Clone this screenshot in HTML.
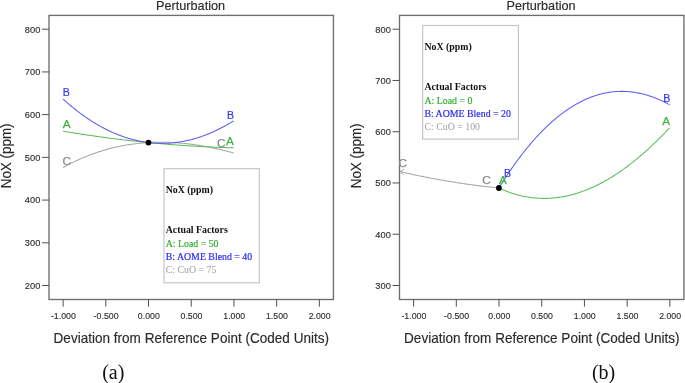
<!DOCTYPE html>
<html><head><meta charset="utf-8"><style>
html,body{margin:0;padding:0;background:#fff;}
body{width:685px;height:383px;overflow:hidden;}
svg{display:block;will-change:transform;}
text{font-family:"Liberation Sans",sans-serif;}
.tk{font-size:9.9px;fill:#303030;stroke:#303030;stroke-width:0.15px;}
.ttl{font-size:14.4px;fill:#2a2a2a;stroke:#2a2a2a;stroke-width:0.15px;}
.top{font-size:12.9px;fill:#2a2a2a;stroke:#2a2a2a;stroke-width:0.15px;}
.lg{font-family:"Liberation Serif",serif;font-size:9.85px;}
.b{font-weight:bold;}
.cg{stroke:#33ad33;stroke-width:0.2px;}
.cb{stroke:#2a2af5;stroke-width:0.2px;}
.cl{font-size:11.8px;stroke-width:0.25px;}
.cap{font-family:"Liberation Serif",serif;font-size:20px;fill:#111;}
</style></head><body>
<svg width="685" height="383" viewBox="0 0 685 383">
<rect width="685" height="383" fill="#fff"/>
<rect x="49.0" y="15.4" width="284.45" height="284.10" fill="none" stroke="#6e6e6e" stroke-width="1.35"/>
<line x1="42" y1="29.20" x2="49.0" y2="29.20" stroke="#505050" stroke-width="1"/>
<text x="40.3" y="32.60" text-anchor="end" class="tk" textLength="15.5" lengthAdjust="spacingAndGlyphs">800</text>
<line x1="42" y1="71.92" x2="49.0" y2="71.92" stroke="#505050" stroke-width="1"/>
<text x="40.3" y="75.32" text-anchor="end" class="tk" textLength="15.5" lengthAdjust="spacingAndGlyphs">700</text>
<line x1="42" y1="114.64" x2="49.0" y2="114.64" stroke="#505050" stroke-width="1"/>
<text x="40.3" y="118.04" text-anchor="end" class="tk" textLength="15.5" lengthAdjust="spacingAndGlyphs">600</text>
<line x1="42" y1="157.36" x2="49.0" y2="157.36" stroke="#505050" stroke-width="1"/>
<text x="40.3" y="160.76" text-anchor="end" class="tk" textLength="15.5" lengthAdjust="spacingAndGlyphs">500</text>
<line x1="42" y1="200.08" x2="49.0" y2="200.08" stroke="#505050" stroke-width="1"/>
<text x="40.3" y="203.48" text-anchor="end" class="tk" textLength="15.5" lengthAdjust="spacingAndGlyphs">400</text>
<line x1="42" y1="242.80" x2="49.0" y2="242.80" stroke="#505050" stroke-width="1"/>
<text x="40.3" y="246.20" text-anchor="end" class="tk" textLength="15.5" lengthAdjust="spacingAndGlyphs">300</text>
<line x1="42" y1="285.52" x2="49.0" y2="285.52" stroke="#505050" stroke-width="1"/>
<text x="40.3" y="288.92" text-anchor="end" class="tk" textLength="15.5" lengthAdjust="spacingAndGlyphs">200</text>
<line x1="63.10" y1="299.5" x2="63.10" y2="306.7" stroke="#505050" stroke-width="1"/>
<text x="63.40" y="318.8" text-anchor="middle" class="tk" textLength="25.0" lengthAdjust="spacingAndGlyphs">-1.000</text>
<line x1="105.81" y1="299.5" x2="105.81" y2="306.7" stroke="#505050" stroke-width="1"/>
<text x="106.11" y="318.8" text-anchor="middle" class="tk" textLength="25.0" lengthAdjust="spacingAndGlyphs">-0.500</text>
<line x1="148.52" y1="299.5" x2="148.52" y2="306.7" stroke="#505050" stroke-width="1"/>
<text x="148.82" y="318.8" text-anchor="middle" class="tk" textLength="21.9" lengthAdjust="spacingAndGlyphs">0.000</text>
<line x1="191.23" y1="299.5" x2="191.23" y2="306.7" stroke="#505050" stroke-width="1"/>
<text x="191.53" y="318.8" text-anchor="middle" class="tk" textLength="21.9" lengthAdjust="spacingAndGlyphs">0.500</text>
<line x1="233.94" y1="299.5" x2="233.94" y2="306.7" stroke="#505050" stroke-width="1"/>
<text x="234.24" y="318.8" text-anchor="middle" class="tk" textLength="21.9" lengthAdjust="spacingAndGlyphs">1.000</text>
<line x1="276.65" y1="299.5" x2="276.65" y2="306.7" stroke="#505050" stroke-width="1"/>
<text x="276.95" y="318.8" text-anchor="middle" class="tk" textLength="21.9" lengthAdjust="spacingAndGlyphs">1.500</text>
<line x1="319.36" y1="299.5" x2="319.36" y2="306.7" stroke="#505050" stroke-width="1"/>
<text x="319.66" y="318.8" text-anchor="middle" class="tk" textLength="21.9" lengthAdjust="spacingAndGlyphs">2.000</text>
<text x="53.6" y="343" class="ttl" textLength="275.4" lengthAdjust="spacingAndGlyphs">Deviation from Reference Point (Coded Units)</text>
<text x="156.1" y="9.6" class="top" textLength="69" lengthAdjust="spacingAndGlyphs">Perturbation</text>
<text transform="translate(10.8,188.3) rotate(-90)" x="0" y="0" class="ttl" textLength="64.9" lengthAdjust="spacingAndGlyphs">NoX (ppm)</text>
<rect x="399.5" y="15.4" width="284.45" height="284.10" fill="none" stroke="#6e6e6e" stroke-width="1.35"/>
<line x1="392.5" y1="29.20" x2="399.5" y2="29.20" stroke="#505050" stroke-width="1"/>
<text x="390.8" y="32.60" text-anchor="end" class="tk" textLength="15.5" lengthAdjust="spacingAndGlyphs">800</text>
<line x1="392.5" y1="80.46" x2="399.5" y2="80.46" stroke="#505050" stroke-width="1"/>
<text x="390.8" y="83.86" text-anchor="end" class="tk" textLength="15.5" lengthAdjust="spacingAndGlyphs">700</text>
<line x1="392.5" y1="131.72" x2="399.5" y2="131.72" stroke="#505050" stroke-width="1"/>
<text x="390.8" y="135.12" text-anchor="end" class="tk" textLength="15.5" lengthAdjust="spacingAndGlyphs">600</text>
<line x1="392.5" y1="182.98" x2="399.5" y2="182.98" stroke="#505050" stroke-width="1"/>
<text x="390.8" y="186.38" text-anchor="end" class="tk" textLength="15.5" lengthAdjust="spacingAndGlyphs">500</text>
<line x1="392.5" y1="234.24" x2="399.5" y2="234.24" stroke="#505050" stroke-width="1"/>
<text x="390.8" y="237.64" text-anchor="end" class="tk" textLength="15.5" lengthAdjust="spacingAndGlyphs">400</text>
<line x1="392.5" y1="285.50" x2="399.5" y2="285.50" stroke="#505050" stroke-width="1"/>
<text x="390.8" y="288.90" text-anchor="end" class="tk" textLength="15.5" lengthAdjust="spacingAndGlyphs">300</text>
<line x1="413.60" y1="299.5" x2="413.60" y2="306.7" stroke="#505050" stroke-width="1"/>
<text x="413.90" y="318.8" text-anchor="middle" class="tk" textLength="25.0" lengthAdjust="spacingAndGlyphs">-1.000</text>
<line x1="456.31" y1="299.5" x2="456.31" y2="306.7" stroke="#505050" stroke-width="1"/>
<text x="456.61" y="318.8" text-anchor="middle" class="tk" textLength="25.0" lengthAdjust="spacingAndGlyphs">-0.500</text>
<line x1="499.02" y1="299.5" x2="499.02" y2="306.7" stroke="#505050" stroke-width="1"/>
<text x="499.32" y="318.8" text-anchor="middle" class="tk" textLength="21.9" lengthAdjust="spacingAndGlyphs">0.000</text>
<line x1="541.73" y1="299.5" x2="541.73" y2="306.7" stroke="#505050" stroke-width="1"/>
<text x="542.03" y="318.8" text-anchor="middle" class="tk" textLength="21.9" lengthAdjust="spacingAndGlyphs">0.500</text>
<line x1="584.44" y1="299.5" x2="584.44" y2="306.7" stroke="#505050" stroke-width="1"/>
<text x="584.74" y="318.8" text-anchor="middle" class="tk" textLength="21.9" lengthAdjust="spacingAndGlyphs">1.000</text>
<line x1="627.15" y1="299.5" x2="627.15" y2="306.7" stroke="#505050" stroke-width="1"/>
<text x="627.45" y="318.8" text-anchor="middle" class="tk" textLength="21.9" lengthAdjust="spacingAndGlyphs">1.500</text>
<line x1="669.86" y1="299.5" x2="669.86" y2="306.7" stroke="#505050" stroke-width="1"/>
<text x="670.16" y="318.8" text-anchor="middle" class="tk" textLength="21.9" lengthAdjust="spacingAndGlyphs">2.000</text>
<text x="404.1" y="343" class="ttl" textLength="275.4" lengthAdjust="spacingAndGlyphs">Deviation from Reference Point (Coded Units)</text>
<text x="506.6" y="9.6" class="top" textLength="69" lengthAdjust="spacingAndGlyphs">Perturbation</text>
<text transform="translate(361.3,188.3) rotate(-90)" x="0" y="0" class="ttl" textLength="64.9" lengthAdjust="spacingAndGlyphs">NoX (ppm)</text>
<polyline points="63.00,167.57 64.00,167.02 65.00,166.48 66.00,165.94 67.00,165.40 68.00,164.88 69.00,164.36 70.00,163.85 71.00,163.34 72.00,162.84 73.00,162.35 74.00,161.86 75.00,161.38 76.00,160.91 77.00,160.44 78.00,159.99 79.00,159.53 80.00,159.09 81.00,158.64 82.00,158.21 83.00,157.78 84.00,157.36 85.00,156.95 86.00,156.54 87.00,156.14 88.00,155.74 89.00,155.35 90.00,154.97 91.00,154.59 92.00,154.22 93.00,153.85 94.00,153.49 95.00,153.14 96.00,152.79 97.00,152.45 98.00,152.12 99.00,151.79 100.00,151.47 101.00,151.15 102.00,150.84 103.00,150.53 104.00,150.24 105.00,149.94 106.00,149.65 107.00,149.37 108.00,149.10 109.00,148.83 110.00,148.56 111.00,148.31 112.00,148.05 113.00,147.81 114.00,147.56 115.00,147.33 116.00,147.10 117.00,146.88 118.00,146.66 119.00,146.44 120.00,146.24 121.00,146.03 122.00,145.84 123.00,145.65 124.00,145.46 125.00,145.28 126.00,145.10 127.00,144.93 128.00,144.77 129.00,144.61 130.00,144.46 131.00,144.31 132.00,144.17 133.00,144.03 134.00,143.90 135.00,143.77 136.00,143.65 137.00,143.53 138.00,143.42 139.00,143.31 140.00,143.21 141.00,143.11 142.00,143.02 143.00,142.93 144.00,142.85 145.00,142.78 146.00,142.70 147.00,142.64 148.00,142.58 149.00,142.52 150.00,142.47 151.00,142.42 152.00,142.38 153.00,142.34 154.00,142.31 155.00,142.28 156.00,142.25 157.00,142.24 158.00,142.22 159.00,142.21 160.00,142.21 161.00,142.21 162.00,142.21 163.00,142.22 164.00,142.23 165.00,142.25 166.00,142.27 167.00,142.30 168.00,142.33 169.00,142.37 170.00,142.41 171.00,142.45 172.00,142.50 173.00,142.56 174.00,142.61 175.00,142.67 176.00,142.74 177.00,142.81 178.00,142.89 179.00,142.96 180.00,143.05 181.00,143.13 182.00,143.23 183.00,143.32 184.00,143.42 185.00,143.52 186.00,143.63 187.00,143.74 188.00,143.86 189.00,143.98 190.00,144.10 191.00,144.23 192.00,144.36 193.00,144.49 194.00,144.63 195.00,144.78 196.00,144.92 197.00,145.07 198.00,145.23 199.00,145.38 200.00,145.55 201.00,145.71 202.00,145.88 203.00,146.05 204.00,146.23 205.00,146.41 206.00,146.59 207.00,146.78 208.00,146.97 209.00,147.16 210.00,147.36 211.00,147.56 212.00,147.77 213.00,147.97 214.00,148.19 215.00,148.40 216.00,148.62 217.00,148.84 218.00,149.06 219.00,149.29 220.00,149.52 221.00,149.76 222.00,149.99 223.00,150.24 224.00,150.48 225.00,150.73 226.00,150.98 227.00,151.23 228.00,151.49 229.00,151.75 230.00,152.01 231.00,152.27 232.00,152.54 233.00,152.81 233.70,153.01" fill="none" stroke="#a8a8a8" stroke-width="1.05"/>
<polyline points="63.00,131.15 64.00,131.32 65.00,131.49 66.00,131.66 67.00,131.82 68.00,131.99 69.00,132.15 70.00,132.32 71.00,132.48 72.00,132.64 73.00,132.80 74.00,132.96 75.00,133.12 76.00,133.28 77.00,133.44 78.00,133.59 79.00,133.75 80.00,133.91 81.00,134.06 82.00,134.21 83.00,134.37 84.00,134.52 85.00,134.67 86.00,134.82 87.00,134.97 88.00,135.12 89.00,135.27 90.00,135.41 91.00,135.56 92.00,135.70 93.00,135.85 94.00,135.99 95.00,136.13 96.00,136.28 97.00,136.42 98.00,136.56 99.00,136.70 100.00,136.84 101.00,136.97 102.00,137.11 103.00,137.25 104.00,137.38 105.00,137.52 106.00,137.65 107.00,137.78 108.00,137.91 109.00,138.05 110.00,138.18 111.00,138.30 112.00,138.43 113.00,138.56 114.00,138.69 115.00,138.81 116.00,138.94 117.00,139.06 118.00,139.19 119.00,139.31 120.00,139.43 121.00,139.55 122.00,139.67 123.00,139.79 124.00,139.91 125.00,140.03 126.00,140.15 127.00,140.26 128.00,140.38 129.00,140.49 130.00,140.60 131.00,140.72 132.00,140.83 133.00,140.94 134.00,141.05 135.00,141.16 136.00,141.27 137.00,141.38 138.00,141.48 139.00,141.59 140.00,141.69 141.00,141.80 142.00,141.90 143.00,142.00 144.00,142.11 145.00,142.21 146.00,142.31 147.00,142.41 148.00,142.51 149.00,142.60 150.00,142.70 151.00,142.80 152.00,142.89 153.00,142.99 154.00,143.08 155.00,143.17 156.00,143.26 157.00,143.36 158.00,143.45 159.00,143.53 160.00,143.62 161.00,143.71 162.00,143.80 163.00,143.88 164.00,143.97 165.00,144.05 166.00,144.14 167.00,144.22 168.00,144.30 169.00,144.38 170.00,144.46 171.00,144.54 172.00,144.62 173.00,144.70 174.00,144.78 175.00,144.85 176.00,144.93 177.00,145.00 178.00,145.07 179.00,145.15 180.00,145.22 181.00,145.29 182.00,145.36 183.00,145.43 184.00,145.50 185.00,145.57 186.00,145.63 187.00,145.70 188.00,145.76 189.00,145.83 190.00,145.89 191.00,145.95 192.00,146.02 193.00,146.08 194.00,146.14 195.00,146.20 196.00,146.26 197.00,146.31 198.00,146.37 199.00,146.43 200.00,146.48 201.00,146.54 202.00,146.59 203.00,146.64 204.00,146.69 205.00,146.75 206.00,146.80 207.00,146.84 208.00,146.89 209.00,146.94 210.00,146.99 211.00,147.03 212.00,147.08 213.00,147.12 214.00,147.17 215.00,147.21 216.00,147.25 217.00,147.29 218.00,147.33 219.00,147.37 220.00,147.41 221.00,147.45 222.00,147.49 223.00,147.52 224.00,147.56 225.00,147.59 226.00,147.62 227.00,147.66 228.00,147.69 229.00,147.72 230.00,147.75 231.00,147.78 232.00,147.81 233.00,147.84 233.70,147.85" fill="none" stroke="#5cbe5c" stroke-width="1.05"/>
<polyline points="63.00,99.07 64.00,99.96 65.00,100.85 66.00,101.73 67.00,102.60 68.00,103.46 69.00,104.31 70.00,105.16 71.00,105.99 72.00,106.81 73.00,107.63 74.00,108.43 75.00,109.23 76.00,110.01 77.00,110.79 78.00,111.56 79.00,112.32 80.00,113.06 81.00,113.80 82.00,114.53 83.00,115.26 84.00,115.97 85.00,116.67 86.00,117.36 87.00,118.05 88.00,118.72 89.00,119.39 90.00,120.05 91.00,120.69 92.00,121.33 93.00,121.96 94.00,122.58 95.00,123.19 96.00,123.79 97.00,124.38 98.00,124.97 99.00,125.54 100.00,126.10 101.00,126.66 102.00,127.21 103.00,127.74 104.00,128.27 105.00,128.79 106.00,129.30 107.00,129.80 108.00,130.29 109.00,130.77 110.00,131.25 111.00,131.71 112.00,132.16 113.00,132.61 114.00,133.05 115.00,133.47 116.00,133.89 117.00,134.30 118.00,134.70 119.00,135.09 120.00,135.47 121.00,135.85 122.00,136.21 123.00,136.56 124.00,136.91 125.00,137.25 126.00,137.57 127.00,137.89 128.00,138.20 129.00,138.50 130.00,138.79 131.00,139.08 132.00,139.35 133.00,139.61 134.00,139.87 135.00,140.11 136.00,140.35 137.00,140.58 138.00,140.80 139.00,141.01 140.00,141.21 141.00,141.40 142.00,141.58 143.00,141.76 144.00,141.92 145.00,142.08 146.00,142.23 147.00,142.37 148.00,142.49 149.00,142.62 150.00,142.73 151.00,142.83 152.00,142.92 153.00,143.01 154.00,143.08 155.00,143.15 156.00,143.21 157.00,143.26 158.00,143.30 159.00,143.33 160.00,143.35 161.00,143.36 162.00,143.37 163.00,143.36 164.00,143.35 165.00,143.33 166.00,143.30 167.00,143.26 168.00,143.21 169.00,143.15 170.00,143.08 171.00,143.01 172.00,142.92 173.00,142.83 174.00,142.73 175.00,142.62 176.00,142.50 177.00,142.37 178.00,142.23 179.00,142.09 180.00,141.93 181.00,141.77 182.00,141.60 183.00,141.42 184.00,141.23 185.00,141.03 186.00,140.82 187.00,140.60 188.00,140.38 189.00,140.15 190.00,139.90 191.00,139.65 192.00,139.39 193.00,139.12 194.00,138.85 195.00,138.56 196.00,138.26 197.00,137.96 198.00,137.65 199.00,137.33 200.00,137.00 201.00,136.66 202.00,136.31 203.00,135.96 204.00,135.59 205.00,135.22 206.00,134.84 207.00,134.45 208.00,134.05 209.00,133.64 210.00,133.22 211.00,132.80 212.00,132.36 213.00,131.92 214.00,131.47 215.00,131.01 216.00,130.54 217.00,130.06 218.00,129.58 219.00,129.08 220.00,128.58 221.00,128.07 222.00,127.55 223.00,127.02 224.00,126.48 225.00,125.94 226.00,125.38 227.00,124.82 228.00,124.25 229.00,123.67 230.00,123.08 231.00,122.48 232.00,121.88 233.00,121.26 233.70,120.83" fill="none" stroke="#5e5ef4" stroke-width="1.05"/>
<circle cx="148.45" cy="142.55" r="2.9" fill="#000"/>
<text transform="translate(62.85,95.96) scale(0.9,1)" class="cl" fill="#3a3af5" stroke="#3a3af5">B</text>
<text transform="translate(62.81,128.21) scale(1.0,1)" class="cl" fill="#3db33d" stroke="#3db33d">A</text>
<text transform="translate(62.46,164.66) scale(1.0,1)" class="cl" fill="#8a8a8a" stroke="#8a8a8a">C</text>
<text transform="translate(227.10,118.66) scale(0.9,1)" class="cl" fill="#3a3af5" stroke="#3a3af5">B</text>
<text transform="translate(226.06,144.71) scale(1.0,1)" class="cl" fill="#3db33d" stroke="#3db33d">A</text>
<text transform="translate(217.11,147.31) scale(1.0,1)" class="cl" fill="#8a8a8a" stroke="#8a8a8a">C</text>
<rect x="164.0" y="168.7" width="95.30" height="114.10" fill="#fff" stroke="#c6c6c6" stroke-width="1.2"/>
<text x="165.70" y="193.00" class="lg b" fill="#111">NoX (ppm)</text>
<text x="165.70" y="233.30" class="lg b" fill="#111">Actual Factors</text>
<text x="165.70" y="246.70" class="lg cg" fill="#33ad33">A: Load = 50</text>
<text x="165.70" y="260.00" class="lg cb" fill="#2a2af5">B: AOME Blend = 40</text>
<text x="165.70" y="273.40" class="lg" fill="#a0a0a0">C: CuO = 75</text>
<polyline points="400.00,171.59 401.00,171.83 402.00,172.06 403.00,172.29 404.00,172.51 405.00,172.74 406.00,172.96 407.00,173.19 408.00,173.41 409.00,173.63 410.00,173.85 411.00,174.07 412.00,174.29 413.00,174.50 414.00,174.71 415.00,174.93 416.00,175.14 417.00,175.35 418.00,175.56 419.00,175.77 420.00,175.97 421.00,176.18 422.00,176.38 423.00,176.58 424.00,176.78 425.00,176.98 426.00,177.18 427.00,177.38 428.00,177.57 429.00,177.77 430.00,177.96 431.00,178.15 432.00,178.34 433.00,178.53 434.00,178.72 435.00,178.90 436.00,179.09 437.00,179.27 438.00,179.45 439.00,179.63 440.00,179.81 441.00,179.99 442.00,180.17 443.00,180.34 444.00,180.52 445.00,180.69 446.00,180.86 447.00,181.03 448.00,181.20 449.00,181.36 450.00,181.53 451.00,181.69 452.00,181.86 453.00,182.02 454.00,182.18 455.00,182.34 456.00,182.50 457.00,182.65 458.00,182.81 459.00,182.96 460.00,183.11 461.00,183.27 462.00,183.42 463.00,183.56 464.00,183.71 465.00,183.86 466.00,184.00 467.00,184.14 468.00,184.29 469.00,184.43 470.00,184.56 471.00,184.70 472.00,184.84 473.00,184.97 474.00,185.11 475.00,185.24 476.00,185.37 477.00,185.50 478.00,185.63 479.00,185.75 480.00,185.88 481.00,186.00 482.00,186.13 483.00,186.25 484.00,186.37 485.00,186.49 486.00,186.61 487.00,186.72 488.00,186.84 489.00,186.95 490.00,187.06 491.00,187.17 492.00,187.28 493.00,187.39 494.00,187.50 495.00,187.60 496.00,187.71 497.00,187.81 498.00,187.91 498.90,188.00" fill="none" stroke="#a8a8a8" stroke-width="1.05"/>
<polyline points="404.1,169.2 399.8,171.6 403.7,174.5" fill="none" stroke="#a8a8a8" stroke-width="1"/>
<polyline points="498.90,188.00 499.90,188.46 500.90,188.91 501.90,189.35 502.90,189.78 503.90,190.20 504.90,190.60 505.90,191.00 506.90,191.39 507.90,191.76 508.90,192.13 509.90,192.48 510.90,192.82 511.90,193.16 512.90,193.48 513.90,193.79 514.90,194.09 515.90,194.39 516.90,194.67 517.90,194.94 518.90,195.20 519.90,195.45 520.90,195.69 521.90,195.92 522.90,196.14 523.90,196.35 524.90,196.54 525.90,196.73 526.90,196.91 527.90,197.08 528.90,197.24 529.90,197.39 530.90,197.52 531.90,197.65 532.90,197.77 533.90,197.88 534.90,197.97 535.90,198.06 536.90,198.14 537.90,198.21 538.90,198.26 539.90,198.31 540.90,198.35 541.90,198.38 542.90,198.39 543.90,198.40 544.90,198.40 545.90,198.39 546.90,198.37 547.90,198.34 548.90,198.30 549.90,198.25 550.90,198.19 551.90,198.12 552.90,198.04 553.90,197.95 554.90,197.85 555.90,197.74 556.90,197.62 557.90,197.49 558.90,197.36 559.90,197.21 560.90,197.05 561.90,196.89 562.90,196.71 563.90,196.53 564.90,196.33 565.90,196.13 566.90,195.92 567.90,195.69 568.90,195.46 569.90,195.22 570.90,194.97 571.90,194.71 572.90,194.44 573.90,194.16 574.90,193.88 575.90,193.58 576.90,193.27 577.90,192.96 578.90,192.64 579.90,192.30 580.90,191.96 581.90,191.61 582.90,191.25 583.90,190.88 584.90,190.50 585.90,190.11 586.90,189.72 587.90,189.31 588.90,188.90 589.90,188.47 590.90,188.04 591.90,187.60 592.90,187.15 593.90,186.69 594.90,186.22 595.90,185.75 596.90,185.26 597.90,184.77 598.90,184.26 599.90,183.75 600.90,183.23 601.90,182.70 602.90,182.17 603.90,181.62 604.90,181.07 605.90,180.50 606.90,179.93 607.90,179.35 608.90,178.76 609.90,178.16 610.90,177.56 611.90,176.94 612.90,176.32 613.90,175.69 614.90,175.05 615.90,174.40 616.90,173.74 617.90,173.08 618.90,172.40 619.90,171.72 620.90,171.03 621.90,170.33 622.90,169.63 623.90,168.91 624.90,168.19 625.90,167.46 626.90,166.72 627.90,165.97 628.90,165.21 629.90,164.45 630.90,163.68 631.90,162.90 632.90,162.11 633.90,161.31 634.90,160.51 635.90,159.70 636.90,158.88 637.90,158.05 638.90,157.21 639.90,156.37 640.90,155.51 641.90,154.65 642.90,153.79 643.90,152.91 644.90,152.03 645.90,151.14 646.90,150.24 647.90,149.33 648.90,148.42 649.90,147.49 650.90,146.56 651.90,145.63 652.90,144.68 653.90,143.73 654.90,142.77 655.90,141.80 656.90,140.82 657.90,139.84 658.90,138.85 659.90,137.85 660.90,136.84 661.90,135.83 662.90,134.81 663.90,133.78 664.90,132.75 665.90,131.70 666.90,130.65 667.90,129.59 668.90,128.53 669.60,127.78" fill="none" stroke="#5cbe5c" stroke-width="1.05"/>
<polyline points="498.90,188.00 499.90,186.39 500.90,184.79 501.90,183.21 502.90,181.64 503.90,180.09 504.90,178.55 505.90,177.02 506.90,175.51 507.90,174.01 508.90,172.53 509.90,171.06 510.90,169.60 511.90,168.16 512.90,166.73 513.90,165.32 514.90,163.92 515.90,162.54 516.90,161.17 517.90,159.81 518.90,158.47 519.90,157.14 520.90,155.82 521.90,154.52 522.90,153.23 523.90,151.96 524.90,150.70 525.90,149.45 526.90,148.22 527.90,147.00 528.90,145.80 529.90,144.61 530.90,143.43 531.90,142.26 532.90,141.11 533.90,139.98 534.90,138.86 535.90,137.75 536.90,136.65 537.90,135.57 538.90,134.50 539.90,133.45 540.90,132.41 541.90,131.38 542.90,130.36 543.90,129.36 544.90,128.38 545.90,127.40 546.90,126.44 547.90,125.50 548.90,124.56 549.90,123.64 550.90,122.74 551.90,121.84 552.90,120.96 553.90,120.10 554.90,119.24 555.90,118.40 556.90,117.58 557.90,116.76 558.90,115.96 559.90,115.17 560.90,114.40 561.90,113.64 562.90,112.89 563.90,112.16 564.90,111.44 565.90,110.73 566.90,110.03 567.90,109.35 568.90,108.68 569.90,108.02 570.90,107.38 571.90,106.75 572.90,106.13 573.90,105.53 574.90,104.94 575.90,104.36 576.90,103.79 577.90,103.24 578.90,102.70 579.90,102.17 580.90,101.66 581.90,101.16 582.90,100.67 583.90,100.19 584.90,99.73 585.90,99.28 586.90,98.84 587.90,98.42 588.90,98.00 589.90,97.60 590.90,97.22 591.90,96.84 592.90,96.48 593.90,96.13 594.90,95.79 595.90,95.47 596.90,95.16 597.90,94.86 598.90,94.57 599.90,94.30 600.90,94.03 601.90,93.78 602.90,93.55 603.90,93.32 604.90,93.11 605.90,92.91 606.90,92.72 607.90,92.55 608.90,92.38 609.90,92.23 610.90,92.09 611.90,91.97 612.90,91.85 613.90,91.75 614.90,91.66 615.90,91.58 616.90,91.52 617.90,91.47 618.90,91.42 619.90,91.40 620.90,91.38 621.90,91.37 622.90,91.38 623.90,91.40 624.90,91.43 625.90,91.47 626.90,91.53 627.90,91.60 628.90,91.68 629.90,91.77 630.90,91.87 631.90,91.98 632.90,92.11 633.90,92.25 634.90,92.40 635.90,92.56 636.90,92.74 637.90,92.92 638.90,93.12 639.90,93.33 640.90,93.55 641.90,93.78 642.90,94.03 643.90,94.28 644.90,94.55 645.90,94.83 646.90,95.12 647.90,95.42 648.90,95.73 649.90,96.06 650.90,96.40 651.90,96.75 652.90,97.11 653.90,97.48 654.90,97.86 655.90,98.25 656.90,98.66 657.90,99.08 658.90,99.51 659.90,99.95 660.90,100.40 661.90,100.86 662.90,101.33 663.90,101.82 664.90,102.32 665.90,102.82 666.90,103.34 667.90,103.87 668.90,104.41 669.60,104.80" fill="none" stroke="#5e5ef4" stroke-width="1.05"/>
<circle cx="498.9" cy="188.0" r="2.9" fill="#000"/>
<text transform="translate(398.51,167.06) scale(1.0,1)" class="cl" fill="#8a8a8a" stroke="#8a8a8a">C</text>
<text transform="translate(482.26,183.56) scale(1.0,1)" class="cl" fill="#8a8a8a" stroke="#8a8a8a">C</text>
<text transform="translate(498.96,184.36) scale(1.0,1)" class="cl" fill="#3db33d" stroke="#3db33d">A</text>
<text transform="translate(504.10,176.66) scale(0.9,1)" class="cl" fill="#3a3af5" stroke="#3a3af5">B</text>
<text transform="translate(663.25,102.36) scale(0.9,1)" class="cl" fill="#3a3af5" stroke="#3a3af5">B</text>
<text transform="translate(662.31,124.76) scale(1.0,1)" class="cl" fill="#3db33d" stroke="#3db33d">A</text>
<rect x="422.7" y="25.5" width="95.70" height="113.60" fill="#fff" stroke="#c6c6c6" stroke-width="1.2"/>
<text x="424.40" y="49.80" class="lg b" fill="#111">NoX (ppm)</text>
<text x="424.40" y="90.10" class="lg b" fill="#111">Actual Factors</text>
<text x="424.40" y="103.50" class="lg cg" fill="#33ad33">A: Load = 0</text>
<text x="424.40" y="116.80" class="lg cb" fill="#2a2af5">B: AOME Blend = 20</text>
<text x="424.40" y="130.20" class="lg" fill="#a0a0a0">C: CuO = 100</text>
<text x="102.2" y="379.0" class="cap">(a)</text>
<text x="591.9" y="379.0" class="cap">(b)</text>
</svg>
</body></html>
